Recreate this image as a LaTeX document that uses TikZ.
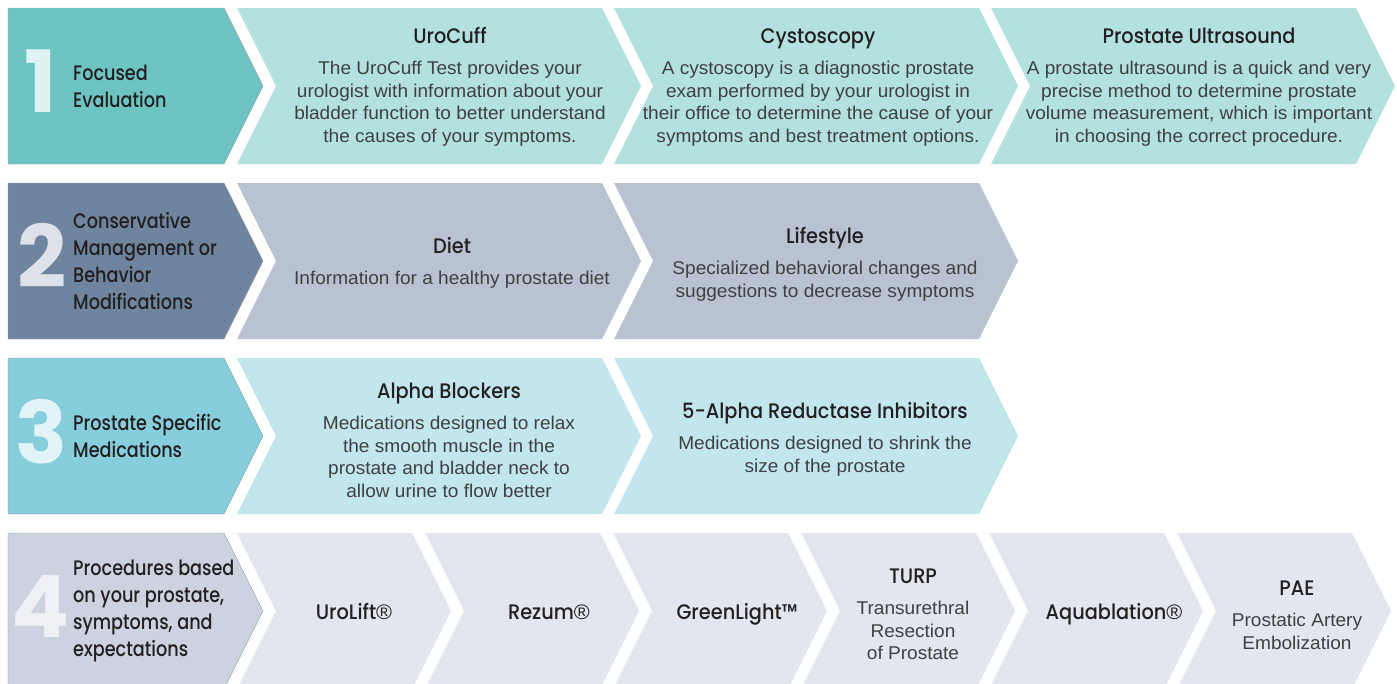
\documentclass[tikz,border=0pt]{standalone}
\usepackage{fontspec}
\setmainfont{Liberation Sans}
\newfontfamily\bodyfont[FakeStretch=1.03]{Liberation Sans}
\newfontfamily\headfont[FakeStretch=0.84]{Poppins Medium}
\newfontfamily\ttlfont[FakeStretch=0.92]{Poppins Medium}
\newfontfamily\numfont{Poppins}
\usetikzlibrary{positioning}
\definecolor{hdone}{HTML}{6EC4C3}
\definecolor{hdtwo}{HTML}{6F859F}
\definecolor{hdthree}{HTML}{87CEDD}
\definecolor{hdfour}{HTML}{CCD2DF}
\definecolor{ctone}{HTML}{B3E1E0}
\definecolor{cttwo}{HTML}{B8C2D0}
\definecolor{ctthree}{HTML}{C1E6EE}
\definecolor{ctfour}{HTML}{E3E6EE}
\definecolor{nmone}{HTML}{E0F3F3}
\definecolor{nmtwo}{HTML}{DDE2EA}
\definecolor{nmthree}{HTML}{E2F3F7}
\definecolor{nmfour}{HTML}{EEF0F5}
\definecolor{ink}{HTML}{231F20}
\definecolor{bodyink}{HTML}{404042}
\definecolor{edge}{HTML}{8E9499}
\newcommand{\chevbox}[4]{\fill[#4] (#1,#2) -- ++(#3,0) -- ++(39,78) -- ++(-39,78) -- ++(-#3,0) -- ++(39,-78) -- cycle;}
\newcommand{\regmark}{{\bodyfont ®}}
\tikzset{hdtext/.style={anchor=west,align=left,inner sep=0,text=ink,font=\headfont\fontsize{21}{26.7}\selectfont},
  bignum/.style={inner sep=0,font=\numfont\bfseries\fontsize{86}{86}\selectfont},
  ttl/.style={anchor=base,inner sep=0,text height=15pt,text depth=4pt,text=ink,font=\ttlfont\fontsize{21}{24}\selectfont},
  body/.style={align=center,inner sep=0,text=bodyink,font=\bodyfont\fontsize{18.5}{22.5}\selectfont}}

\begin{document}
\begin{tikzpicture}[x=1pt,y=-1pt]
\useasboundingbox (0,0) rectangle (1397,683);
\foreach \top/\hc in {8/hdone,183/hdtwo,358/hdthree,533/hdfour}{
  \filldraw[fill=\hc,draw=edge,line width=0.4pt] (8,\top) -- (224,\top) -- (263,\top+78) -- (224,\top+156) -- (8,\top+156) -- cycle;}
\foreach \x in {237,614,991}{\chevbox{\x}{8}{365}{ctone}}
\foreach \x in {237,614}{\chevbox{\x}{183}{365}{cttwo}}
\foreach \x in {237,614}{\chevbox{\x}{358}{365}{ctthree}}
\foreach \x in {237,425,613,801,989,1177}{\chevbox{\x}{533}{175}{ctfour}}
\node[bignum,text=nmone] (numOne) at (41,81) {1};
\node[bignum,text=nmtwo] (numTwo) at (42,255) {2};
\node[bignum,text=nmthree] (numThree) at (42,432) {3};
\node[bignum,text=nmfour] (numFour) at (41,607) {4};
\node[hdtext] (hdOne) at (73,86) {Focused\\Evaluation};
\node[hdtext] (hdTwo) at (73,261) {Conservative\\Management or\\Behavior\\Modifications};
\node[hdtext] (hdThree) at (73,436) {Prostate Specific\\Medications};
\node[hdtext] (hdFour) at (73,611) {Procedures based\\on your prostate,\\symptoms, and\\expectations};
\node[ttl] (uroCuff) at (450,43) {UroCuff};
\node[body,below=14pt of uroCuff] (uroCuffTxt) {The UroCuff Test provides your\\urologist with information about your\\bladder function to better understand\\the causes of your symptoms.};
\node[ttl] (cysto) at (818,43) {Cystoscopy};
\node[body,below=14pt of cysto] (cystoTxt) {A cystoscopy is a diagnostic prostate\\exam performed by your urologist in\\their office to determine the cause of your\\symptoms and best treatment options.};
\node[ttl] (ultra) at (1199,43) {Prostate Ultrasound};
\node[body,below=14pt of ultra] (ultraTxt) {A prostate ultrasound is a quick and very\\precise method to determine prostate\\volume measurement, which is important\\in choosing the correct procedure.};
\node[ttl] (diet) at (452,253) {Diet};
\node[body,below=14pt of diet] (dietTxt) {Information for a healthy prostate diet};
\node[ttl] (life) at (825,243) {Lifestyle};
\node[body,below=14pt of life] (lifeTxt) {Specialized behavioral changes and\\suggestions to decrease symptoms};
\node[ttl] (alpha) at (449,398) {Alpha Blockers};
\node[body,below=14pt of alpha] (alphaTxt) {Medications designed to relax\\the smooth muscle in the\\prostate and bladder neck to\\allow urine to flow better};
\node[ttl] (fiveAlpha) at (825,418) {5-Alpha Reductase Inhibitors};
\node[body,below=14pt of fiveAlpha] (fiveAlphaTxt) {Medications designed to shrink the\\size of the prostate};
\node[ttl] (uroLift) at (354,619) {UroLift\regmark};
\node[ttl] (rezum) at (549,619) {Rezum\regmark};
\node[ttl] (greenLight) at (737,619) {GreenLight™};
\node[ttl] (turp) at (913,583) {TURP};
\node[body,below=14pt of turp] (turpTxt) {Transurethral\\Resection\\of Prostate};
\node[ttl] (aqua) at (1114,619) {Aquablation\regmark};
\node[ttl] (pae) at (1297,595) {PAE};
\node[body,below=14pt of pae] (paeTxt) {Prostatic Artery\\Embolization};
\end{tikzpicture}
\end{document}
